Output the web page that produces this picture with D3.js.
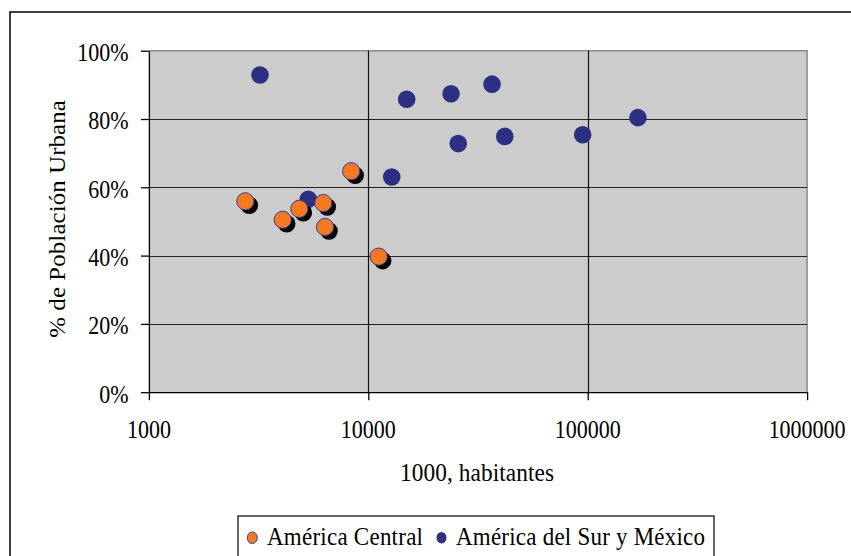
<!DOCTYPE html>
<html>
<head>
<meta charset="utf-8">
<script src="https://cdn.jsdelivr.net/npm/d3@7"></script>
<style>
  html, body { margin: 0; padding: 0; background: #fff; }
  svg { display: block; }
  text { font-family: "Liberation Serif", "Times New Roman", Times, serif; fill: #000; }
</style>
</head>
<body>
<svg id="chart" width="851" height="556"></svg>
<script>
// ---- data (population in thousands, urban %) ----
const centralNames = ["Panamá", "Costa Rica", "Nicaragua", "El Salvador", "Honduras", "Rep. Dominicana", "Guatemala"];
const centralPop   = [2750, 4072, 4848, 6235, 6347, 8356, 11153];
const centralUrban = [55.9, 50.5, 53.7, 55.4, 48.4, 64.7, 39.7];

const southNames = ["Uruguay", "Paraguay", "Ecuador", "Chile", "Venezuela", "Perú", "Argentina", "Colombia", "México", "Brasil"];
const southPop   = [3209, 5326, 12790, 14960, 23830, 25700, 36640, 41880, 94870, 169400];
const southUrban = [92.9, 56.5, 63.0, 85.8, 87.4, 72.8, 90.2, 74.9, 75.4, 80.4];

const xTicks = [1000, 10000, 100000, 1000000];
const yTicks = [0, 20, 40, 60, 80, 100];
const xTitle = "1000, habitantes";
const yTitle = "% de Población Urbana";
const legendLabels = ["América Central", "América del Sur y México"];

// ---- layout ----
const svg = d3.select("#chart");
const plot = { left: 148.9, right: 807.1, top: 50.7, bottom: 392.2 };
const x = d3.scaleLog().domain([1000, 1000000]).range([plot.left, plot.right]);
const y = d3.scaleLinear().domain([0, 100]).range([plot.bottom, plot.top]);
const ORANGE = "#F37A22", NAVY = "#2C3082", EDGE = "#3A3A9A";
const SY = 1.1; // vertical stretch of text

// outer border
svg.append("rect").attr("x", 10).attr("y", 12).attr("width", 870).attr("height", 580)
  .attr("fill", "#fff").attr("stroke", "#000").attr("stroke-width", 1.5);

// plot background
svg.append("rect").attr("x", plot.left).attr("y", plot.top)
  .attr("width", plot.right - plot.left).attr("height", plot.bottom - plot.top)
  .attr("fill", "#cccccc");

// top & right border (gray)
svg.append("path")
  .attr("d", `M${plot.left},${plot.top}H${plot.right}V${plot.bottom}`)
  .attr("fill", "none").attr("stroke", "#8a8a8a").attr("stroke-width", 1.5);

// gridlines
svg.append("g").selectAll("line.h").data(yTicks.filter(d => d > 0 && d < 100)).join("line")
  .attr("x1", plot.left).attr("x2", plot.right)
  .attr("y1", d => Math.round(y(d)) + 0.5).attr("y2", d => Math.round(y(d)) + 0.5)
  .attr("stroke", "#222").attr("stroke-width", 1.2);
svg.append("g").selectAll("line.v").data(xTicks.slice(1, -1)).join("line")
  .attr("x1", d => Math.round(x(d)) + 0.5).attr("x2", d => Math.round(x(d)) + 0.5)
  .attr("y1", plot.top).attr("y2", plot.bottom)
  .attr("stroke", "#111").attr("stroke-width", 1.2);

// axes (ticks + domain lines)
const yAxis = d3.axisLeft(y).tickValues(yTicks).tickSize(8).tickSizeOuter(0).tickFormat("");
const xAxis = d3.axisBottom(x).tickValues(xTicks).tickSize(8).tickSizeOuter(0).tickFormat("");
svg.append("g").attr("transform", `translate(${plot.left},0)`).call(yAxis)
  .call(g => g.selectAll("line,path").attr("stroke", "#000").attr("stroke-width", 1.3));
svg.append("g").attr("transform", `translate(0,${plot.bottom})`).call(xAxis)
  .call(g => g.selectAll("line,path").attr("stroke", "#000").attr("stroke-width", 1.3));

// tick labels
svg.append("g").selectAll("text").data(yTicks).join("text")
  .attr("transform", d => `translate(128.5,${y(d) + 10.3}) scale(1,${SY})`)
  .attr("text-anchor", "end").attr("font-size", 22)
  .text(d => d + "%");
svg.append("g").selectAll("text").data(xTicks).join("text")
  .attr("transform", d => `translate(${x(d)},438.3) scale(1,${SY})`)
  .attr("text-anchor", "middle").attr("font-size", 22)
  .text(d => d3.format("d")(d));

// axis titles
svg.append("text")
  .attr("transform", `translate(477,480.7) scale(1,${SY})`)
  .attr("text-anchor", "middle").attr("font-size", 23.3)
  .attr("textLength", 154).attr("lengthAdjust", "spacing")
  .text(xTitle);
svg.append("text")
  .attr("transform", `translate(65,219) scale(1,${SY}) rotate(-90)`)
  .attr("text-anchor", "middle").attr("font-size", 22.5)
  .attr("textLength", 216).attr("lengthAdjust", "spacing")
  .text(yTitle);

// points: South America & Mexico (drawn first)
const south = southPop.map((p, i) => ({ p, u: southUrban[i], n: southNames[i] }));
const central = centralPop.map((p, i) => ({ p, u: centralUrban[i], n: centralNames[i] }));

svg.append("g").selectAll("circle").data(south).join("circle")
  .attr("cx", d => x(d.p)).attr("cy", d => y(d.u)).attr("r", 8.8)
  .attr("fill", NAVY);

// Central America: shadow + orange marker
const cg = svg.append("g").selectAll("g").data(central).join("g");
cg.append("circle")
  .attr("cx", d => x(d.p) + 4).attr("cy", d => y(d.u) + 4).attr("r", 8.8)
  .attr("fill", "#000");
cg.append("circle")
  .attr("cx", d => x(d.p)).attr("cy", d => y(d.u)).attr("r", 8.6)
  .attr("fill", ORANGE).attr("stroke", EDGE).attr("stroke-width", 1);

// legend
svg.append("rect").attr("x", 238).attr("y", 516).attr("width", 476).attr("height", 60)
  .attr("fill", "#fff").attr("stroke", "#000").attr("stroke-width", 1.2);
const legendColors = [ORANGE, NAVY];
const legendMarkX = [252.3, 441.5];
const legendTextX = [267, 456];
const legendTextLen = [156, 249];
legendLabels.forEach((lab, i) => {
  svg.append("ellipse").attr("cx", legendMarkX[i]).attr("cy", 537.7).attr("rx", 5).attr("ry", 5.8)
    .attr("fill", legendColors[i]).attr("stroke", i === 0 ? EDGE : "none").attr("stroke-width", 1);
  svg.append("text")
    .attr("transform", `translate(${legendTextX[i]},545) scale(1,${SY})`)
    .attr("font-size", 23)
    .attr("textLength", legendTextLen[i]).attr("lengthAdjust", "spacing")
    .text(lab);
});
</script>
</body>
</html>
